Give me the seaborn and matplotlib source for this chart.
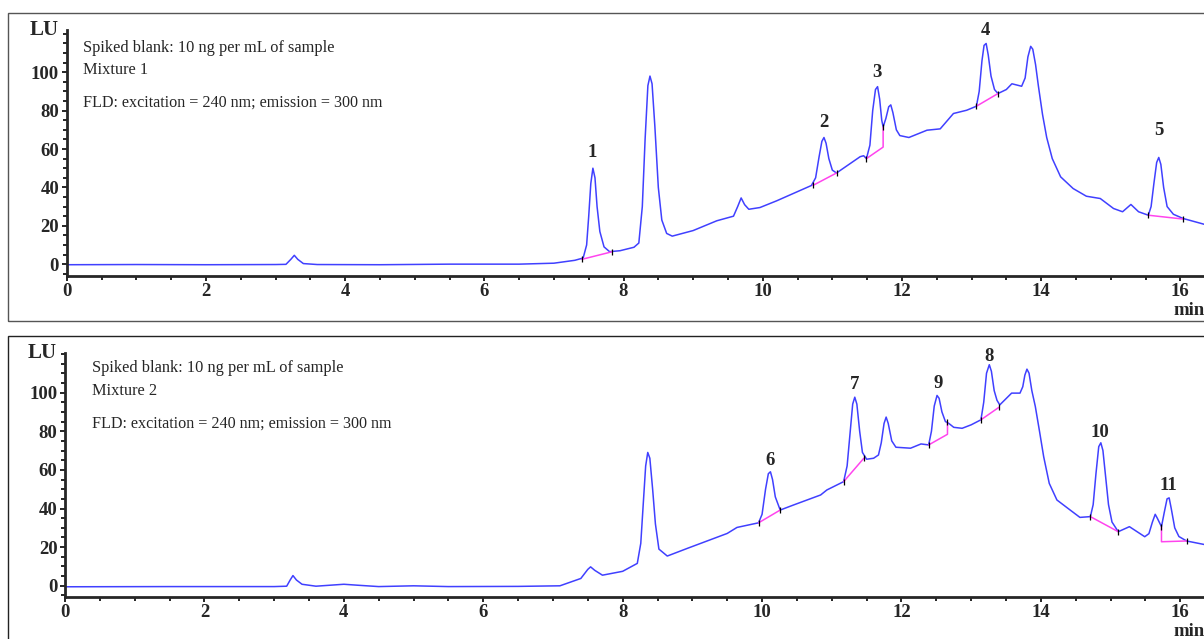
import pandas as pd
import matplotlib
matplotlib.use("Agg")
import matplotlib.pyplot as plt
from matplotlib.patches import Rectangle
from matplotlib.ticker import MultipleLocator
import seaborn as sns

sns.set_theme(style="ticks")
plt.rcParams['font.family'] = ['Liberation Serif', 'DejaVu Serif']

# Mixture 1 chromatogram as (min, LU)
trace_mix1 = [
    (0.00, -0.3), (1.00, -0.2), (2.00, -0.3), (3.00, -0.2), (3.15, -0.1), (3.22, 2.5),
    (3.27, 4.6), (3.32, 2.5), (3.40, 0.3), (3.60, -0.2), (4.50, -0.3), (5.50, 0.0),
    (6.50, 0.0), (7.00, 0.5), (7.30, 2.0), (7.42, 3.2), (7.47, 10), (7.50, 25),
    (7.53, 42), (7.56, 50), (7.59, 45), (7.62, 30), (7.66, 17), (7.72, 9),
    (7.80, 6.5), (7.95, 7.0), (8.15, 8.8), (8.22, 11), (8.27, 30), (8.31, 65),
    (8.35, 93), (8.38, 98), (8.41, 94), (8.45, 72), (8.50, 40), (8.55, 23),
    (8.62, 16), (8.70, 14.6), (9.00, 17.5), (9.34, 22.6), (9.58, 25), (9.64, 30),
    (9.69, 34.5), (9.74, 31), (9.80, 28.6), (9.96, 29.5), (10.20, 33), (10.70, 41),
    (10.76, 45), (10.81, 56), (10.85, 64), (10.88, 66), (10.91, 63), (10.95, 55),
    (11.00, 49), (11.06, 47.5), (11.40, 56), (11.45, 56.5), (11.49, 55), (11.54, 62),
    (11.58, 80), (11.62, 91), (11.65, 92.5), (11.68, 86), (11.71, 75), (11.73, 71.5),
    (11.77, 76), (11.81, 82), (11.84, 83), (11.87, 79), (11.92, 70), (11.97, 67),
    (12.10, 66), (12.36, 69.8), (12.55, 70.5), (12.74, 78.5), (12.93, 80.2), (13.07, 82.3),
    (13.11, 90), (13.15, 106), (13.18, 114), (13.21, 115), (13.24, 109), (13.28, 98),
    (13.33, 91), (13.38, 88.9), (13.50, 91), (13.58, 94), (13.72, 92.7), (13.77, 97),
    (13.81, 108), (13.85, 113.5), (13.88, 112), (13.92, 104), (13.96, 93), (14.02, 78),
    (14.08, 66), (14.16, 55), (14.28, 45.5), (14.46, 39.4), (14.65, 35.4), (14.85, 34.2),
    (15.04, 29), (15.17, 27.3), (15.29, 31.1), (15.40, 27.3), (15.54, 25.5), (15.58, 30),
    (15.62, 42), (15.66, 53), (15.69, 55.6), (15.72, 52), (15.76, 40), (15.81, 30),
    (15.90, 26), (16.04, 23.8), (16.34, 20.8), (16.60, 20),
]

# Mixture 2 chromatogram
trace_mix2 = [
    (0.00, -0.5), (1.50, -0.4), (3.00, -0.4), (3.18, -0.2), (3.23, 3), (3.27, 5.3),
    (3.32, 3), (3.40, 0.8), (3.60, -0.2), (4.00, 0.8), (4.20, 0.3), (4.50, -0.4),
    (5.00, 0.0), (5.50, -0.4), (6.50, -0.3), (7.10, 0.0), (7.40, 3.8), (7.50, 8.5),
    (7.54, 9.8), (7.60, 8), (7.71, 5.5), (8.00, 7.5), (8.21, 11.6), (8.26, 22),
    (8.30, 45), (8.33, 62), (8.36, 69), (8.39, 66), (8.43, 50), (8.47, 32),
    (8.52, 19), (8.64, 15.4), (8.93, 19.4), (9.50, 27.1), (9.64, 30.2), (9.95, 32.6),
    (10.00, 37), (10.05, 50), (10.09, 58), (10.12, 59), (10.15, 55), (10.19, 46),
    (10.26, 39.2), (10.45, 41.8), (10.84, 47), (10.93, 49.6), (11.17, 53.9), (11.22, 62),
    (11.26, 78), (11.30, 94), (11.33, 97.6), (11.36, 94), (11.40, 80), (11.44, 69),
    (11.50, 65.5), (11.60, 66), (11.67, 67.7), (11.71, 74), (11.75, 84), (11.78, 87.3),
    (11.81, 84), (11.86, 75), (11.92, 71.7), (12.13, 71.2), (12.28, 73.4), (12.39, 72.9),
    (12.43, 80), (12.47, 93), (12.51, 98.5), (12.54, 97), (12.58, 90), (12.63, 85),
    (12.68, 84), (12.75, 82), (12.87, 81.5), (13.00, 83.3), (13.14, 85.9), (13.18, 95),
    (13.22, 110), (13.26, 114.4), (13.29, 111), (13.33, 101), (13.37, 96), (13.41, 93.6),
    (13.58, 99.7), (13.70, 99.7), (13.74, 103), (13.77, 109), (13.80, 112.1), (13.83, 110),
    (13.87, 101), (13.92, 92.8), (13.98, 80), (14.04, 66.8), (14.12, 53), (14.23, 44.4),
    (14.42, 39.2), (14.56, 35.4), (14.71, 35.8), (14.75, 42), (14.79, 58), (14.83, 72),
    (14.86, 74), (14.89, 70), (14.93, 56), (14.97, 42), (15.02, 33), (15.11, 28),
    (15.27, 30.6), (15.49, 25.4), (15.55, 27), (15.60, 33), (15.64, 37), (15.67, 35),
    (15.73, 30.6), (15.77, 38), (15.81, 45), (15.84, 45.5), (15.87, 40), (15.92, 30),
    (15.98, 25.5), (16.09, 23.2), (16.34, 21.4), (16.60, 20.5),
]

# integration baselines (magenta), one list per peak
base_t_mix1 = [[7.40, 7.84], [10.72, 11.06], [11.49, 11.73, 11.73], [13.07, 13.38], [15.54, 16.04]]
base_lu_mix1 = [[2.5, 6.5], [41, 47.5], [55, 61, 71.5], [82.3, 88.9], [25.5, 23.5]]
base_t_mix2 = [[9.95, 10.26], [11.17, 11.46], [12.39, 12.66, 12.66], [13.14, 13.40],
               [14.71, 15.11], [15.73, 15.73, 16.09]]
base_lu_mix2 = [[32.6, 39.2], [53.9, 66], [72.9, 78.4, 84.5], [85.9, 92.4],
                [35.8, 28], [30.6, 22.8, 23.2]]

# peak numbers
peak_lab_mix1 = ['1', '2', '3', '4', '5']
peak_t_mix1 = [7.55, 10.88, 11.64, 13.20, 15.69]
peak_y_mix1 = [58, 74, 100, 122, 69.5]
peak_lab_mix2 = ['6', '7', '9', '8', '10', '11']
peak_t_mix2 = [10.11, 11.33, 12.52, 13.26, 14.85, 15.83]
peak_y_mix2 = [64.6, 104, 104.5, 118.6, 79.3, 51.8]

mixture_names = ['Mixture 1', 'Mixture 2']

fig = plt.figure(figsize=(12.04, 6.39), dpi=100)

# panel frames
fig.patches.append(Rectangle((0.0066, 0.4977), 1.2, 0.482, transform=fig.transFigure,
                             fill=False, ec='#555555', lw=1.0))
fig.patches.append(Rectangle((0.0066, -0.2), 1.2, 0.674, transform=fig.transFigure,
                             fill=False, ec='#222222', lw=1.0))

ax1 = fig.add_axes([0.0554, 0.568, 0.9446, 0.385])
ax2 = fig.add_axes([0.054, 0.066, 0.946, 0.382])

panels = [
    (ax1, trace_mix1, base_t_mix1, base_lu_mix1, peak_lab_mix1, peak_t_mix1, peak_y_mix1,
     (-6.2, 122), 0.23),
    (ax2, trace_mix2, base_t_mix2, base_lu_mix2, peak_lab_mix2, peak_t_mix2, peak_y_mix2,
     (-5.7, 120.6), 0.38),
]

for i, (ax, trace, bt, blu, labs, pt, py, ylim, tx) in enumerate(panels):
    df = pd.DataFrame(trace, columns=['time', 'LU'])
    sns.lineplot(data=df, x='time', y='LU', ax=ax, color='#4040ff', lw=1.1,
                 estimator=None, sort=False)
    for seg_t, seg_lu in zip(bt, blu):
        ax.plot(seg_t, seg_lu, color='#ff44ee', lw=1.1)
        ax.plot([seg_t[0], seg_t[-1]], [seg_lu[0], seg_lu[-1]], ls='none', marker='|',
                ms=4, mew=0.9, color='black')
    for lab, x, y in zip(labs, pt, py):
        ax.text(x, y, lab, ha='center', va='center', fontsize=13.5, fontweight='bold',
                clip_on=False)

    ax.set_xlim(0, 16.34)
    ax.set_ylim(*ylim)
    ax.xaxis.set_major_locator(MultipleLocator(2))
    ax.xaxis.set_minor_locator(MultipleLocator(0.5))
    ax.yaxis.set_major_locator(MultipleLocator(20))
    ax.yaxis.set_minor_locator(MultipleLocator(5))
    ax.set_yticks([0, 20, 40, 60, 80, 100])
    ax.tick_params(axis='both', which='major', length=3.5, width=1.4, labelsize=13.5, pad=2)
    ax.tick_params(axis='both', which='minor', length=3, width=1.4)
    ax.tick_params(axis='x', which='major', pad=1.5)
    for lbl in ax.get_xticklabels() + ax.get_yticklabels():
        lbl.set_fontweight('bold')
    for side in ['top', 'right']:
        ax.spines[side].set_visible(False)
    for side in ['left', 'bottom']:
        ax.spines[side].set_linewidth(2.0)
    ax.set_xlabel('')
    ax.set_ylabel('')
    ax.patch.set_alpha(0)

    ax.text(-0.12, ylim[1], 'LU', ha='right', va='center', fontsize=15, fontweight='bold',
            clip_on=False)
    ax.text(15.9, ylim[0] - 18, 'min', ha='left', va='center', fontsize=13.5,
            fontweight='bold', clip_on=False)

    ax.text(tx, 112.5, 'Spiked blank: 10 ng per mL of sample', fontsize=11.8, va='center')
    ax.text(tx, 101, mixture_names[i], fontsize=11.8, va='center')
    ax.text(tx, 84, 'FLD: excitation = 240 nm; emission = 300 nm', fontsize=11.6, va='center')

fig.savefig('out.png', dpi=100)
